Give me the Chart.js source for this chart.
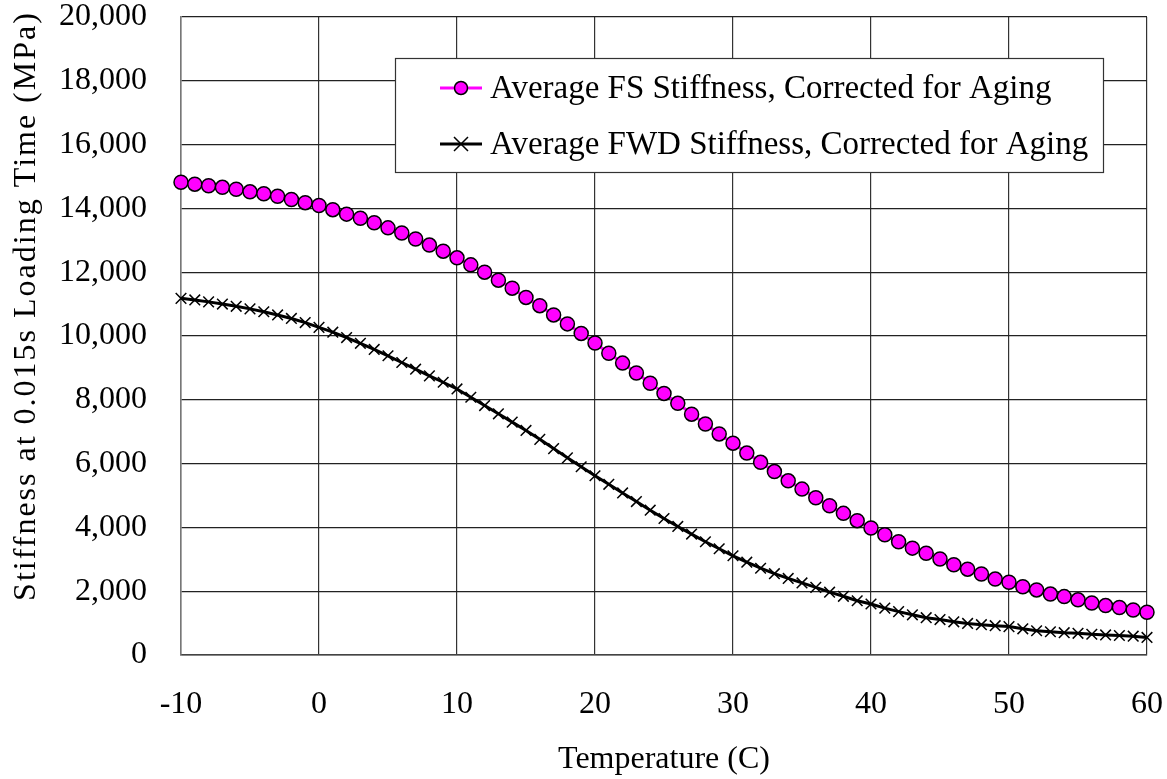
<!DOCTYPE html>
<html>
<head>
<meta charset="utf-8">
<script src="https://cdn.jsdelivr.net/npm/chart.js@4.4.1/dist/chart.umd.min.js"></script>
<style>
  html, body { margin: 0; padding: 0; background: #fff; }
  #wrap { width: 1167px; height: 779px; position: relative; }
</style>
</head>
<body>
<div id="wrap"><canvas id="stiffChart"></canvas></div>
<script>
// temperatures, -10 .. 60 C
const temps = [];
for (let t = -10; t <= 60; t++) temps.push(t);

// Average FS stiffness, corrected for aging (MPa)
const fsStiffness = [
  14820, 14760, 14710, 14660, 14600, 14520, 14460, 14380, 14280, 14180,
  14090, 13960, 13820, 13690, 13550, 13390, 13230, 13040, 12850, 12660,
  12450, 12230, 12000, 11750, 11500, 11210, 10950, 10660, 10380, 10080,
  9780, 9460, 9150, 8840, 8520, 8200, 7890, 7550, 7240, 6930,
  6640, 6330, 6040, 5750, 5460, 5200, 4930, 4680, 4440, 4210,
  3980, 3770, 3550, 3350, 3190, 3010, 2830, 2690, 2540, 2380,
  2280, 2140, 2040, 1910, 1830, 1730, 1630, 1550, 1490, 1410,
  1340
];

// Average FWD stiffness, corrected for aging (MPa)
const fwdStiffness = [
  11180, 11130, 11070, 11000, 10930, 10850, 10760, 10660, 10550, 10420,
  10270, 10120, 9950, 9770, 9580, 9380, 9170, 8960, 8750, 8550,
  8340, 8080, 7820, 7560, 7300, 7040, 6760, 6470, 6180, 5900,
  5620, 5350, 5080, 4810, 4540, 4280, 4030, 3790, 3550, 3330,
  3110, 2910, 2720, 2550, 2400, 2260, 2120, 1970, 1840, 1700,
  1600, 1470, 1360, 1260, 1170, 1110, 1040, 990, 950, 920,
  890, 820, 760, 730, 700, 680, 650, 630, 610, 590,
  550
];

const seriesNames = [
  'Average FS Stiffness, Corrected for Aging',
  'Average FWD Stiffness, Corrected for Aging'
];
const yTitle = 'Stiffness at 0.015s Loading Time (MPa)';

const FONT = '"Liberation Serif", "Times New Roman", serif';

// legend box drawn inside the plot, like the original, plus the
// y title (drawn here so it can get the wider letter spacing)
const extras = {
  id: 'extras',
  afterDraw(chart) {
    const c = chart.ctx;
    const x0 = 395, y0 = 58, w = 708, h = 114;
    c.save();
    c.fillStyle = '#fff';
    c.fillRect(x0, y0, w, h);
    c.strokeStyle = '#333';
    c.lineWidth = 1.2;
    c.strokeRect(x0 + 0.5, y0 + 0.5, w, h);
    c.font = '33px ' + FONT;
    c.textBaseline = 'middle';
    const rows = [y0 + 30, y0 + 86];
    // FS sample
    c.strokeStyle = '#ff00ff';
    c.lineWidth = 3;
    c.beginPath(); c.moveTo(440, rows[0]); c.lineTo(482, rows[0]); c.stroke();
    c.beginPath(); c.arc(461, rows[0], 6.5, 0, Math.PI * 2);
    c.fillStyle = '#ff00ff'; c.fill();
    c.strokeStyle = '#000'; c.lineWidth = 1.5; c.stroke();
    // FWD sample
    c.strokeStyle = '#000';
    c.lineWidth = 3;
    c.beginPath(); c.moveTo(440, rows[1]); c.lineTo(482, rows[1]); c.stroke();
    c.lineWidth = 1.5;
    c.beginPath();
    c.moveTo(454, rows[1] - 7); c.lineTo(468, rows[1] + 7);
    c.moveTo(468, rows[1] - 7); c.lineTo(454, rows[1] + 7);
    c.stroke();
    c.fillStyle = '#000';
    c.fillText(seriesNames[0], 490, rows[0] + 1);
    c.fillText(seriesNames[1], 490, rows[1] + 1);

    // y axis title
    c.translate(27, 306);
    c.rotate(-Math.PI / 2);
    c.font = '32px ' + FONT;
    c.letterSpacing = '2px';
    c.textAlign = 'center';
    c.textBaseline = 'middle';
    c.fillText(yTitle, 0, 0);
    c.restore();
  }
};

new Chart(document.getElementById('stiffChart'), {
  type: 'line',
  data: {
    labels: temps,
    datasets: [
      {
        label: seriesNames[0],
        data: temps.map((t, i) => ({ x: t, y: fsStiffness[i] })),
        borderColor: '#ff00ff',
        borderWidth: 3,
        backgroundColor: '#ff00ff',
        pointStyle: 'circle',
        pointRadius: 7,
        pointBorderColor: '#000',
        pointBorderWidth: 1.5,
        pointBackgroundColor: '#ff00ff',
        tension: 0,
        clip: false
      },
      {
        label: seriesNames[1],
        data: temps.map((t, i) => ({ x: t, y: fwdStiffness[i] })),
        borderColor: '#000',
        borderWidth: 3,
        pointStyle: 'crossRot',
        pointRadius: 7.5,
        pointBorderColor: '#000',
        pointBorderWidth: 1.5,
        tension: 0,
        clip: false
      }
    ]
  },
  options: {
    responsive: true,
    maintainAspectRatio: false,
    animation: false,
    layout: { padding: { left: 0, right: 20, top: 17, bottom: 0 } },
    plugins: {
      legend: { display: false },
      tooltip: { enabled: false }
    },
    scales: {
      x: {
        type: 'linear',
        min: -10,
        max: 60,
        afterFit: s => {
          s.height = 124;
          s.paddingLeft = 0; s.paddingRight = 0;
        },
        ticks: {
          stepSize: 10,
          color: '#000',
          font: { family: FONT, size: 32 },
          padding: 30
        },
        grid: { color: '#333', lineWidth: 1.2, tickLength: 0, drawTicks: false },
        border: { color: '#444', width: 1.5 },
        title: {
          display: true,
          text: 'Temperature (C)',
          color: '#000',
          font: { family: FONT, size: 32 },
          padding: { top: 0, bottom: 0 }
        }
      },
      y: {
        min: 0,
        max: 20000,
        afterFit: s => {
          s.width = 181;
          s.paddingTop = 0; s.paddingBottom = 0;
        },
        ticks: {
          stepSize: 2000,
          color: '#000',
          font: { family: FONT, size: 32 },
          padding: 34,
          callback: v => v.toLocaleString('en-US')
        },
        grid: { color: '#222', lineWidth: 1.2, tickLength: 0, drawTicks: false },
        border: { color: '#777', width: 1.5 },
        title: { display: false }
      }
    }
  },
  plugins: [extras]
});
</script>
</body>
</html>
